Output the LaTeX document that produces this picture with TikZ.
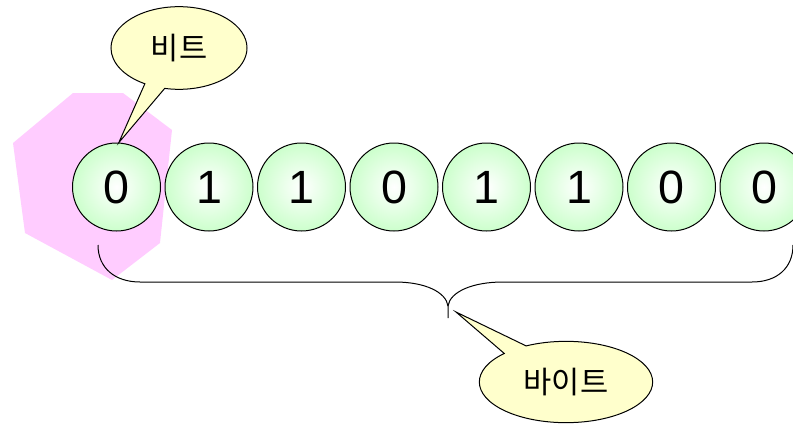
\documentclass[tikz,border=0pt]{standalone}
\usepackage{fontspec}
\setmainfont{Liberation Sans}
\newfontfamily\krfont{Noto Sans CJK KR}
\usetikzlibrary{shapes.geometric,shapes.callouts}

\definecolor{bitgreen}{RGB}{204,255,204}
\definecolor{tagyellow}{RGB}{255,255,204}
\definecolor{hexpink}{RGB}{255,204,255}

\tikzset{every picture/.style={line width=0.75pt}}
\tikzset{
  bit/.style={circle, draw, minimum size=66pt, inner sep=0pt,
    inner color=white, outer color=bitgreen,
    font=\fontsize{35}{40}\selectfont},
  tag/.style={ellipse callout, draw, fill=tagyellow, inner sep=0pt,
    callout pointer arc=18,
    font=\krfont\fontsize{23}{27}\selectfont}
}

\begin{document}
\begin{tikzpicture}[x=0.75pt,y=0.75pt,yscale=-1,xscale=1]
\useasboundingbox (0,0) rectangle (793,425);
\clip (0,0) rectangle (793,425);

%Shape: Polygon [pink patch behind the first bit]
\fill [hexpink] (73,93) -- (123,93) -- (172,130) -- (160,243) -- (112,280) -- (25,233) -- (13,143) -- cycle ;

%Shape: Circles [the eight bits]
\foreach \d [count=\i] in {0,1,1,0,1,1,0,0}
  \node [bit] (b\i) at ({116.5+92.5*(\i-1)},187) {\d};

%Curve Lines [brace under the bits]
\coordinate (cusp) at (448,318);
\draw (98,245) .. controls (98,268) and (115,282) .. (140,282) -- (395,282) .. controls (425,282) and (446,292) .. (448,306) -- (cusp) ;
\draw (448,306) .. controls (450,292) and (472,282) .. (503,282) -- (752,282) .. controls (777,282) and (793,268) .. (793,245) ;

% Text Node
\node [tag, minimum width=102pt, minimum height=62pt, callout absolute pointer={(b1.87)}] (bit) at (179,48) {비트};
% Text Node
\node [tag, minimum width=130pt, minimum height=61pt, callout absolute pointer={([shift={(8,-6)}]cusp)}] (byte) at (566,382) {바이트};

\end{tikzpicture}
\end{document}
